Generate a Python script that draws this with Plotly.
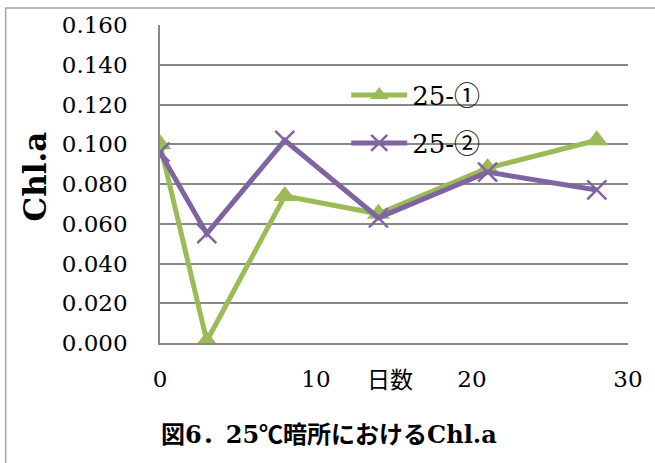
import plotly.graph_objects as go

# Days of storage in the dark at 25 °C
days = [0, 3, 8, 14, 21, 28]
# Chl.a measured for the two samples
chl_25_1 = [0.100, 0.001, 0.074, 0.065, 0.088, 0.102]
chl_25_2 = [0.096, 0.055, 0.102, 0.063, 0.086, 0.077]

y_ticks = [0.000, 0.020, 0.040, 0.060, 0.080, 0.100, 0.120, 0.140, 0.160]
x_ticks = [0, 10, 20, 30]
series_names = ["25-①", "25-②"]

GREEN = "#9BBB59"
PURPLE = "#8064A2"
GRID = "#898989"
SERIF = "DejaVu Serif"
CJK = "Noto Sans CJK JP"


def serif_label(name):
    # digits and hyphen in the serif face, circled numeral from the CJK face
    return f"<span style='font-family:{SERIF}'>{name[:-1]}</span>" \
           f"<span style='font-family:{CJK}'>{name[-1]}</span>"


fig = go.Figure()
fig.add_trace(go.Scatter(
    x=days, y=chl_25_1, name=serif_label(series_names[0]), mode="lines+markers",
    line=dict(color=GREEN, width=5),
    marker=dict(symbol="triangle-up", size=20, color=GREEN),
    legend="legend",
))
fig.add_trace(go.Scatter(
    x=days, y=chl_25_2, name=serif_label(series_names[1]), mode="lines+markers",
    line=dict(color=PURPLE, width=5),
    marker=dict(symbol="x-thin-open", size=19, color=PURPLE,
                line=dict(color=PURPLE, width=2.5)),
    legend="legend2",
))

legend_common = dict(
    font=dict(family=SERIF, size=26, color="#000000"),
    bgcolor="rgba(0,0,0,0)", borderwidth=0, itemwidth=56,
    xanchor="left", yanchor="middle", xref="paper", yref="paper",
)

fig.update_layout(
    width=655, height=463,
    margin=dict(l=160, r=25, t=25, b=120),
    paper_bgcolor="white", plot_bgcolor="white",
    showlegend=True,
    legend=dict(x=(347 - 160) / 470, y=(343 - 95) / 318, **legend_common),
    legend2=dict(x=(347 - 160) / 470, y=(343 - 143) / 318, **legend_common),
    xaxis=dict(
        range=[0, 30], tickvals=x_ticks, ticktext=[str(v) for v in x_ticks],
        showgrid=False, zeroline=False,
        showline=True, linecolor=GRID, linewidth=1.5,
        ticks="outside", ticklen=15, tickcolor="rgba(0,0,0,0)",
        tickfont=dict(family=SERIF, size=23, color="#000000"),
    ),
    yaxis=dict(
        range=[0, 0.160], tickvals=y_ticks,
        ticktext=[f"{v:.3f}" for v in y_ticks],
        showgrid=True, gridcolor=GRID, gridwidth=1.5,
        zeroline=False,
        showline=True, linecolor=GRID, linewidth=1.5,
        ticks="outside", ticklen=26, tickcolor="rgba(0,0,0,0)",
        tickfont=dict(family=SERIF, size=23, color="#000000"),
    ),
    shapes=[dict(
        type="rect", xref="paper", yref="paper",
        x0=(5 - 160) / 470, x1=(700 - 160) / 470,
        y0=(343 - 500) / 318, y1=(343 - 8) / 318,
        line=dict(color="#A6A6A6", width=1.5), layer="below",
    )],
    annotations=[
        dict(text="<b>Chl.a</b>", textangle=-90, xref="paper", yref="paper",
             x=(34 - 160) / 470, y=(343 - 177) / 318, showarrow=False,
             xanchor="center", yanchor="middle",
             font=dict(family=SERIF, size=31, color="#000000")),
        dict(text="日数", xref="paper", yref="paper",
             x=(391 - 160) / 470, y=(343 - 378) / 318, showarrow=False,
             xanchor="center", yanchor="middle",
             font=dict(family=CJK, size=23, color="#000000")),
        dict(text="<b>図6．25<span style='font-family:Noto Sans CJK JP'>℃</span>暗所におけるChl.a</b>",
             xref="paper", yref="paper",
             x=(330 - 160) / 470, y=(343 - 432) / 318, showarrow=False,
             xanchor="center", yanchor="middle",
             font=dict(family=SERIF + ", " + CJK, size=24, color="#000000")),
    ],
)

fig.write_html("out.html")
